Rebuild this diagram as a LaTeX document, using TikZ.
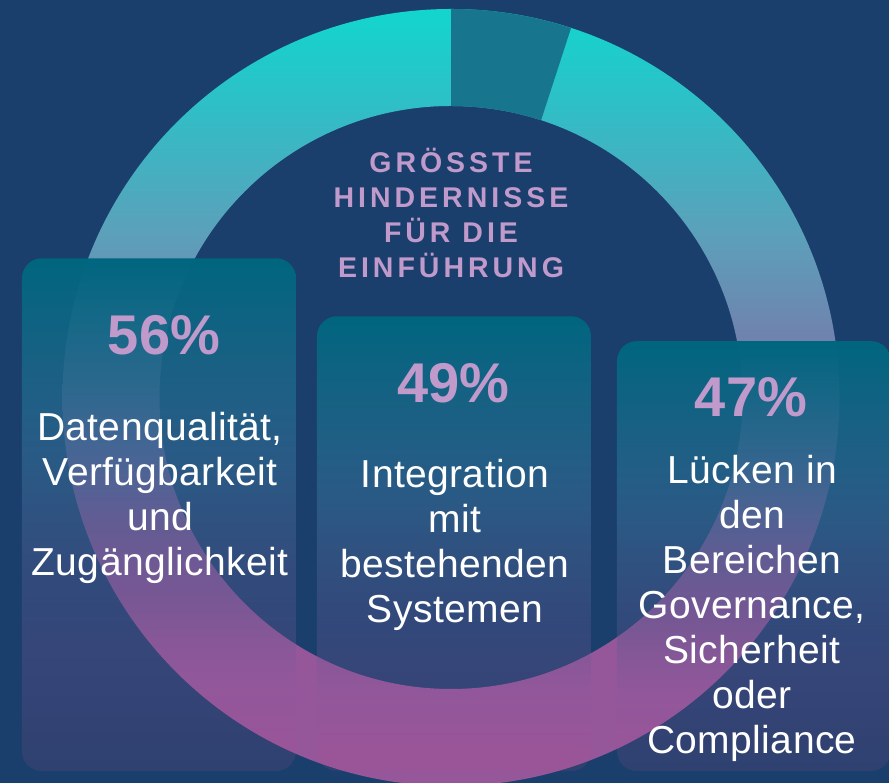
\documentclass[tikz,border=0pt]{standalone}
\usepackage{fontspec}
\usetikzlibrary{fadings,calc}
\setmainfont[LetterSpace=1]{Liberation Sans}
\newfontfamily\headfont[LetterSpace=14]{Liberation Sans}
\newfontfamily\pctfont{Liberation Sans}
\definecolor{bgblue}{HTML}{1B3F6C}
\definecolor{lilac}{HTML}{BF9ACA}
\definecolor{gapteal}{HTML}{18758E}
\pgfdeclareverticalshading{ringshade}{100bp}{
 rgb(0bp)=(0.588,0.337,0.604);
 rgb(25bp)=(0.588,0.337,0.604);
 rgb(42.1bp)=(0.580,0.345,0.600);
 rgb(48.6bp)=(0.500,0.420,0.650);
 rgb(55bp)=(0.424,0.530,0.690);
 rgb(60.5bp)=(0.361,0.627,0.729);
 rgb(69.1bp)=(0.176,0.753,0.780);
 rgb(75bp)=(0.071,0.839,0.808);
 rgb(100bp)=(0.071,0.839,0.808)}
\pgfdeclareverticalshading{cardshade}{100bp}{
 rgb(0bp)=(0.720,0.330,0.560);
 rgb(25bp)=(0.720,0.330,0.560);
 rgb(33bp)=(0.550,0.340,0.610);
 rgb(41.7bp)=(0.320,0.340,0.560);
 rgb(55bp)=(0.190,0.400,0.565);
 rgb(75bp)=(0,0.400,0.498);
 rgb(100bp)=(0,0.400,0.498)}
\pgfdeclareverticalshading{cardalpha}{100bp}{
 rgb(0bp)=(0.12,0.12,0.12);
 rgb(25bp)=(0.12,0.12,0.12);
 rgb(33bp)=(0.22,0.22,0.22);
 rgb(41.7bp)=(0.42,0.42,0.42);
 rgb(55bp)=(0.7,0.7,0.7);
 rgb(61bp)=(0.82,0.82,0.82);
 rgb(75bp)=(1,1,1);
 rgb(100bp)=(1,1,1)}
\tikzfading[name=cardfade,shading=cardalpha]
\tikzset{
 x=1pt,y=1pt,
 cardbox/.style={rounded corners=20pt,shading=cardshade,path fading=cardfade},
 pct/.style={text=lilac,font=\fontsize{56}{56}\pctfont\bfseries,anchor=center,inner sep=0pt},
 desc/.style={text=white,font=\fontsize{39}{45}\selectfont,align=center,anchor=center,inner sep=0pt},
 head/.style={text=lilac,font=\fontsize{28.5}{35.3}\headfont\bfseries,align=center,anchor=center,inner sep=0pt},
}
\begin{document}
\begin{tikzpicture}
\useasboundingbox (0,0) rectangle (889,783);
\clip (0,0) rectangle (889,783);
\fill[bgblue] (0,0) rectangle (889,783);
\coordinate (c) at (451,385.5);
\shade[shading=ringshade] ($(c)+(90:388.5)$) arc[start angle=90,end angle=450,radius=388.5]
  -- ($(c)+(90:291.5)$) arc[start angle=450,end angle=90,radius=291.5] -- cycle;
\fill[gapteal] ($(c)+(90:388.5)$) arc[start angle=90,end angle=72,radius=388.5]
  -- ($(c)+(72:291.5)$) arc[start angle=72,end angle=90,radius=291.5] -- cycle;
\shade[cardbox] (22,12) rectangle (296,525);
\shade[cardbox] (317,12) rectangle (591,467);
\shade[cardbox] (617,12) rectangle (891,442);
\node[head] (title) at (451,570) {GRÖSSTE\\HINDERNISSE\\FÜR DIE\\EINFÜHRUNG};
\node[pct] (p1) at (164,448) {56\%};
\node[pct] (p2) at (453.5,400) {49\%};
\node[pct] (p3) at (751,386) {47\%};
\node[desc] (d1) at (160,285) {Datenqualität,\\Verfügbarkeit\\und\\Zugänglichkeit};
\node[desc] (d2) at (455,238) {Integration\\mit\\bestehenden\\Systemen};
\node[desc] (d3) at (752,175) {Lücken in\\den\\Bereichen\\Governance,\\Sicherheit\\oder\\Compliance};
\end{tikzpicture}
\end{document}
